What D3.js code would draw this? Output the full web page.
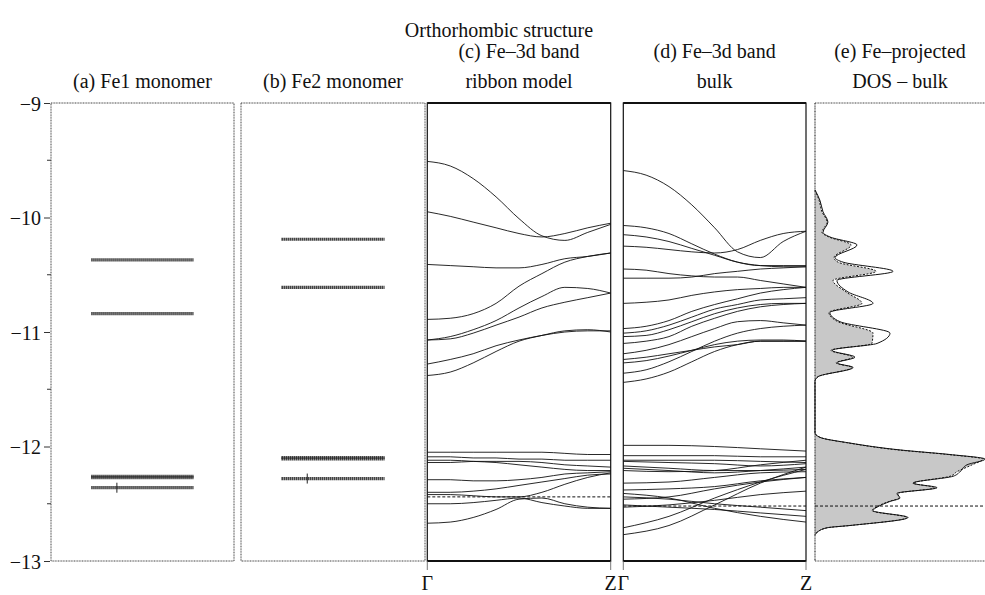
<!DOCTYPE html>
<html>
<head>
<meta charset="utf-8">
<script src="https://cdn.jsdelivr.net/npm/d3@7"></script>
<style>
body { margin: 0; background: #fff; }
text { font-family: "Liberation Serif", "Times New Roman", serif; fill: #111; }
</style>
</head>
<body>
<svg id="chart" width="985" height="595"></svg>
<script>
// energy axis (eV)
var yTicks = [-13, -12, -11, -10, -9];
var yMinorTicks = [-12.5, -11.5, -10.5, -9.5];

// (a), (b) molecular levels
var fe1Levels = [-10.37, -10.84, -12.26, -12.272, -12.36];
var fe1Homo = -12.36;
var fe2Levels = [-10.19, -10.61, -12.096, -12.108, -12.28];
var fe2Homo = -12.28;

// k path Gamma -> Z
var kLabels = ['Γ', 'Z'];
var kFine = [0, 0.125, 0.25, 0.375, 0.5, 0.625, 0.75, 0.875, 1];
var kCoarse = [0, 0.25, 0.5, 0.75, 1];

// (c) ribbon model bands
var ribbonUpper = [
	[-9.51, -9.55, -9.66, -9.82, -10.01, -10.16, -10.20, -10.13, -10.06],
	[-9.95, -9.99, -10.04, -10.09, -10.14, -10.17, -10.14, -10.09, -10.05],
	[-10.41, -10.42, -10.43, -10.44, -10.44, -10.41, -10.36, -10.34, -10.31],
	[-10.89, -10.88, -10.84, -10.75, -10.60, -10.49, -10.39, -10.34, -10.31],
	[-11.07, -11.04, -10.98, -10.90, -10.79, -10.69, -10.61, -10.62, -10.66],
	[-11.07, -11.06, -11.01, -10.94, -10.87, -10.79, -10.74, -10.70, -10.66],
	[-11.28, -11.24, -11.19, -11.12, -11.07, -11.03, -11.00, -10.99, -10.99],
	[-11.38, -11.35, -11.27, -11.17, -11.08, -11.03, -10.99, -10.98, -11.00]
];
var ribbonLower = [
	[-12.05, -12.05, -12.05, -12.05, -12.05, -12.05, -12.06, -12.07, -12.07],
	[-12.09, -12.09, -12.10, -12.10, -12.11, -12.11, -12.12, -12.12, -12.12],
	[-12.12, -12.12, -12.13, -12.14, -12.16, -12.18, -12.20, -12.21, -12.21],
	[-12.14, -12.14, -12.13, -12.13, -12.13, -12.14, -12.16, -12.17, -12.18],
	[-12.29, -12.29, -12.30, -12.30, -12.29, -12.27, -12.24, -12.23, -12.22],
	[-12.40, -12.40, -12.39, -12.37, -12.34, -12.31, -12.28, -12.25, -12.24],
	[-12.42, -12.42, -12.43, -12.44, -12.44, -12.40, -12.33, -12.27, -12.23],
	[-12.50, -12.50, -12.49, -12.47, -12.45, -12.49, -12.52, -12.54, -12.54],
	[-12.67, -12.66, -12.62, -12.55, -12.46, -12.45, -12.50, -12.53, -12.54]
];
var fermiRibbon = -12.44;

// (d) bulk bands
var bulkUpper = [
	[-9.59, -9.63, -9.73, -9.89, -10.09, -10.30, -10.35, -10.21, -10.12],
	[-10.25, -10.26, -10.28, -10.30, -10.31, -10.28, -10.20, -10.14, -10.12],
	[-10.07, -10.09, -10.14, -10.23, -10.32, -10.39, -10.42, -10.42, -10.42],
	[-10.15, -10.17, -10.21, -10.27, -10.33, -10.39, -10.42, -10.43, -10.43],
	[-10.45, -10.46, -10.49, -10.51, -10.52, -10.52, -10.55, -10.58, -10.61],
	[-10.53, -10.53, -10.53, -10.52, -10.49, -10.47, -10.45, -10.44, -10.43],
	[-10.75, -10.74, -10.72, -10.68, -10.65, -10.63, -10.62, -10.61, -10.61],
	[-10.97, -10.95, -10.90, -10.82, -10.76, -10.71, -10.66, -10.63, -10.61],
	[-11.01, -10.99, -10.94, -10.87, -10.80, -10.76, -10.72, -10.71, -10.70],
	[-11.04, -11.03, -10.98, -10.91, -10.84, -10.79, -10.76, -10.75, -10.75],
	[-11.10, -11.08, -11.04, -10.95, -10.88, -10.82, -10.78, -10.76, -10.75],
	[-11.19, -11.16, -11.11, -11.04, -10.97, -10.91, -10.90, -10.92, -10.94],
	[-11.24, -11.22, -11.19, -11.16, -11.13, -11.11, -11.08, -11.08, -11.08],
	[-11.27, -11.25, -11.21, -11.16, -11.11, -11.08, -11.07, -11.07, -11.08],
	[-11.36, -11.33, -11.26, -11.17, -11.08, -11.01, -10.97, -10.95, -10.94],
	[-11.44, -11.41, -11.35, -11.26, -11.17, -11.11, -11.08, -11.08, -11.08]
];
var bulkLower = [
	[-11.99, -11.99, -12.00, -12.02, -12.04],
	[-12.08, -12.08, -12.08, -12.09, -12.09],
	[-12.12, -12.12, -12.12, -12.13, -12.14],
	[-12.13, -12.14, -12.15, -12.17, -12.15],
	[-12.17, -12.19, -12.21, -12.21, -12.20],
	[-12.19, -12.21, -12.23, -12.21, -12.18],
	[-12.21, -12.22, -12.21, -12.16, -12.12],
	[-12.32, -12.31, -12.27, -12.23, -12.22],
	[-12.38, -12.37, -12.35, -12.30, -12.27],
	[-12.41, -12.45, -12.54, -12.61, -12.66],
	[-12.44, -12.46, -12.50, -12.53, -12.56],
	[-12.46, -12.44, -12.37, -12.31, -12.27],
	[-12.51, -12.53, -12.55, -12.58, -12.61],
	[-12.53, -12.51, -12.47, -12.42, -12.39],
	[-12.71, -12.61, -12.45, -12.31, -12.20],
	[-12.77, -12.69, -12.51, -12.32, -12.18]
];
var fermiBulk = -12.52;

// (e) Fe-projected DOS (arbitrary units)
var dosEnergy = [-9.76, -9.85, -9.95, -10.04, -10.13, -10.17, -10.24, -10.35, -10.39, -10.47,
	-10.55, -10.65, -10.75, -10.83, -10.91, -11.01, -11.10, -11.16, -11.22, -11.27,
	-11.31, -11.39, -11.43, -11.88, -11.92, -11.97, -12.03, -12.07, -12.11, -12.16,
	-12.22, -12.26, -12.32, -12.36, -12.41, -12.45, -12.48, -12.53, -12.56, -12.62,
	-12.69, -12.71, -12.75, -12.77];
var dosTotal = [0, 0.29, 0.47, 0.76, 0.47, 0.88, 2.47, 1.18, 1.65, 4.59,
	1.29, 1.94, 3.41, 0.88, 1.47, 4.41, 3.65, 1.00, 2.35, 1.29,
	2.24, 0.18, 0, 0, 0.29, 2.06, 5.0, 7.94, 10.0, 8.94,
	8.53, 8.12, 5.76, 7.18, 4.82, 5.0, 4.41, 3.65, 3.41, 5.47,
	2.06, 0.71, 0.12, 0];
var dosProjected = [0, 0.24, 0.41, 0.71, 0.41, 0.82, 2.12, 1.12, 1.35, 3.59,
	1.06, 1.82, 2.76, 0.82, 1.35, 3.41, 3.35, 0.94, 2.24, 1.24,
	2.18, 0.18, 0, 0, 0.29, 2.0, 4.88, 7.82, 9.88, 9.24,
	8.35, 7.94, 5.82, 7.06, 4.88, 4.94, 4.35, 3.59, 3.35, 5.41,
	2.06, 0.71, 0.12, 0];

var svg = d3.select('#chart');
var plotTop = 103, plotBottom = 561;
var y = d3.scaleLinear().domain([-13, -9]).range([plotBottom, plotTop]);

var panelA = [51, 234], panelB = [241, 425], panelC = [427.3, 610.7],
	panelD = [623.3, 806], panelE = [815, 985];

// titles
function title(x, lines, base) {
	var t = svg.append('text')
		.attr('x', x)
		.attr('y', base)
		.attr('text-anchor', 'middle')
		.style('font-size', '20px');
	lines.forEach(function(s, i){
		t.append('tspan').attr('x', x).attr('dy', i === 0 ? 0 : 30).text(s);
	});
}
svg.append('text').attr('x', 499).attr('y', 37).attr('text-anchor', 'middle')
	.style('font-size', '20px').text('Orthorhombic structure');
title((panelA[0] + panelA[1]) / 2, ['(a) Fe1 monomer'], 88);
title((panelB[0] + panelB[1]) / 2, ['(b) Fe2 monomer'], 88);
title((panelC[0] + panelC[1]) / 2, ['(c) Fe–3d band', 'ribbon model'], 58);
title((panelD[0] + panelD[1]) / 2, ['(d) Fe–3d band', 'bulk'], 58);
title((panelE[0] + panelE[1]) / 2, ['(e) Fe–projected', 'DOS – bulk'], 58);

// y axis
var axis = svg.append('g')
	.attr('transform', 'translate(' + (panelA[0] - 1) + ',0)')
	.call(d3.axisLeft(y).tickValues(yTicks).tickFormat(d3.format('d')).tickSize(6).tickPadding(3));
axis.select('.domain').remove();
axis.selectAll('text').style('font-size', '20px').attr('dy', '0.35em');
axis.selectAll('line').attr('stroke', '#333');
svg.append('g').selectAll('line').data(yMinorTicks).join('line')
	.attr('x1', panelA[0] - 4).attr('x2', panelA[0])
	.attr('y1', function(d){return y(d);}).attr('y2', function(d){return y(d);})
	.attr('stroke', '#333');

// panel frames
function dottedBox(p) {
	svg.append('rect')
		.attr('x', p[0]).attr('y', plotTop)
		.attr('width', p[1] - p[0]).attr('height', plotBottom - plotTop)
		.attr('fill', 'none').attr('stroke', '#444')
		.attr('stroke-width', 1).attr('stroke-dasharray', '1,0.6');
}
dottedBox(panelA);
dottedBox(panelB);

// (a), (b) levels
function drawLevels(p, levels, homo) {
	var x = d3.scaleLinear().domain([0, 1]).range(p);
	svg.append('g').selectAll('line').data(levels).join('line')
		.attr('x1', x(0.22)).attr('x2', x(0.78))
		.attr('y1', function(d){return y(d);}).attr('y2', function(d){return y(d);})
		.attr('stroke', '#2b2b2b').attr('stroke-width', 3.2)
		.attr('stroke-dasharray', '1.4,0.6');
	svg.append('line')
		.attr('x1', x(0.36)).attr('x2', x(0.36))
		.attr('y1', y(homo) - 5).attr('y2', y(homo) + 5)
		.attr('stroke', '#222').attr('stroke-width', 1);
}
drawLevels(panelA, fe1Levels, fe1Homo);
drawLevels(panelB, fe2Levels, fe2Homo);

// (c), (d) band panels
function drawBands(p, groups, fermi) {
	var x = d3.scaleLinear().domain([0, 1]).range(p);
	var g = svg.append('g');
	groups.forEach(function(grp){
		var line = d3.line()
			.x(function(d, i){return x(grp.k[i]);})
			.y(function(d){return y(d);})
			.curve(d3.curveMonotoneX);
		g.append('g').selectAll('path').data(grp.bands).join('path')
			.attr('d', line)
			.attr('fill', 'none').attr('stroke', '#111').attr('stroke-width', 0.9);
	});
	g.append('line')
		.attr('x1', x(0)).attr('x2', x(1))
		.attr('y1', y(fermi)).attr('y2', y(fermi))
		.attr('stroke', '#111').attr('stroke-width', 1).attr('stroke-dasharray', '3,2');
	g.append('rect')
		.attr('x', x(0)).attr('y', plotTop)
		.attr('width', x(1) - x(0)).attr('height', plotBottom - plotTop)
		.attr('fill', 'none').attr('stroke', '#111').attr('stroke-width', 1.2);
	g.selectAll('line.edge').data([plotTop, plotBottom]).join('line')
		.attr('class', 'edge')
		.attr('x1', x(0)).attr('x2', x(1))
		.attr('y1', function(d){return d;}).attr('y2', function(d){return d;})
		.attr('stroke', '#111').attr('stroke-width', 2.2);
	g.selectAll('line.ktick').data([0, 1]).join('line')
		.attr('class', 'ktick')
		.attr('x1', function(d){return x(d);}).attr('x2', function(d){return x(d);})
		.attr('y1', plotBottom).attr('y2', plotBottom + 9)
		.attr('stroke', '#555').attr('stroke-width', 0.8);
	g.selectAll('text').data([0, 1]).join('text')
		.attr('x', function(d){return x(d);})
		.attr('y', 590)
		.attr('text-anchor', 'middle')
		.style('font-size', '20px')
		.text(function(d, i){return kLabels[i];});
}
drawBands(panelC, [{k: kFine, bands: ribbonUpper}, {k: kFine, bands: ribbonLower}], fermiRibbon);
drawBands(panelD, [{k: kFine, bands: bulkUpper}, {k: kCoarse, bands: bulkLower}], fermiBulk);

// (e) DOS
var xd = d3.scaleLinear().domain([0, 10]).range(panelE);
var dos = dosEnergy.map(function(e, i){return {e: e, t: dosTotal[i], p: dosProjected[i]};});
svg.append('path').datum(dos)
	.attr('d', d3.area()
		.y(function(d){return y(d.e);})
		.x0(xd(0))
		.x1(function(d){return xd(d.p);})
		.curve(d3.curveMonotoneY))
	.attr('fill', '#c8c8c8');
svg.append('path').datum(dos)
	.attr('d', d3.line()
		.y(function(d){return y(d.e);})
		.x(function(d){return xd(d.p);})
		.curve(d3.curveMonotoneY))
	.attr('fill', 'none').attr('stroke', '#111').attr('stroke-width', 1)
	.attr('stroke-dasharray', '2,1.5');
svg.append('path').datum(dos)
	.attr('d', d3.line()
		.y(function(d){return y(d.e);})
		.x(function(d){return xd(d.t);})
		.curve(d3.curveMonotoneY))
	.attr('fill', 'none').attr('stroke', '#111').attr('stroke-width', 1);
svg.append('line')
	.attr('x1', panelE[0]).attr('x2', panelE[1])
	.attr('y1', y(fermiBulk)).attr('y2', y(fermiBulk))
	.attr('stroke', '#111').attr('stroke-width', 1).attr('stroke-dasharray', '3,2');
svg.append('line')
	.attr('x1', panelE[0]).attr('x2', panelE[0]).attr('y1', plotTop).attr('y2', plotBottom)
	.attr('stroke', '#333').attr('stroke-width', 1.2).attr('stroke-dasharray', '1,0.6');
svg.selectAll('line.eedge').data([plotTop, plotBottom]).join('line')
	.attr('class', 'eedge')
	.attr('x1', panelE[0]).attr('x2', panelE[1])
	.attr('y1', function(d){return d;}).attr('y2', function(d){return d;})
	.attr('stroke', '#444').attr('stroke-width', 1).attr('stroke-dasharray', '1,0.6');
</script>
</body>
</html>
